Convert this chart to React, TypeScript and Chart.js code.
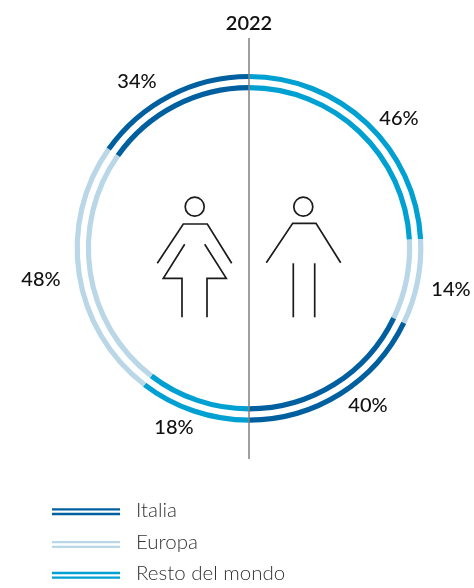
import React, { useEffect, useRef } from "react";
import { Chart, registerables } from "chart.js";

Chart.register(...registerables);

const year = "2022";
const categories = ["Resto del mondo", "Europa", "Italia", "Resto del mondo", "Europa", "Italia"];
// Printed percentages
const men = [46, 14, 40];
const women = [18, 48, 34];
// Arc shares as actually drawn in the picture (each half sums to 100)
const menArcs = [48.3, 16, 35.7];
const womenArcs = [20.8, 48.8, 30.4];
const legendLabels = ["Italia", "Europa", "Resto del mondo"];

const COLORS: Record<string, string> = {
  Italia: "#00609f",
  Europa: "#b9d7e7",
  "Resto del mondo": "#00a0d2",
};
const INK = "#111111";
const labelSpots = [
  [399, 119],
  [451, 290],
  [368, 406],
  [174, 428],
  [41, 280],
  [137, 82],
];

function polyline(ctx: CanvasRenderingContext2D, pts: number[][]) {
  ctx.beginPath();
  pts.forEach(([x, y], i) => (i ? ctx.lineTo(x, y) : ctx.moveTo(x, y)));
  ctx.stroke();
}

const overlay = {
  id: "overlay",
  afterDraw(chart: Chart) {
    const ctx = chart.ctx;
    ctx.save();
    // axis
    ctx.strokeStyle = "#808080";
    ctx.lineWidth = 1.5;
    polyline(ctx, [[249, 38], [249, 459]]);

    // figures
    ctx.strokeStyle = "#1c1c1c";
    ctx.lineWidth = 1.7;
    for (const cx of [194.7, 303.3]) {
      ctx.beginPath();
      ctx.arc(cx, 206.7, 9.5, 0, Math.PI * 2);
      ctx.stroke();
    }
    polyline(ctx, [[157.3, 263.3], [183.3, 224], [207.3, 224], [231.7, 263.3]]);
    polyline(ctx, [[184.7, 244.3], [163.3, 278.3], [182, 278.3], [182, 317.3]]);
    polyline(ctx, [[204.7, 244.3], [226.3, 278.3], [207, 278.3], [207, 317.3]]);
    polyline(ctx, [[266.3, 262.7], [292.7, 223.3], [316, 223.3], [340.7, 262.7]]);
    polyline(ctx, [[293.3, 263.3], [293.3, 317.3]]);
    polyline(ctx, [[314.7, 263.3], [314.7, 317.3]]);

    // percentage labels
    ctx.fillStyle = INK;
    ctx.textAlign = "center";
    ctx.textBaseline = "middle";
    ctx.font = "600 20px Lato";
    ctx.fillText(year, 249, 24);
    ctx.font = "500 20px Lato";
    const all = [...men, ...women];
    all.forEach((v, i) => ctx.fillText(`${v}%`, labelSpots[i][0], labelSpots[i][1]));

    // legend
    const legendY = [511.7, 544.5, 575.3];
    legendLabels.forEach((name, i) => {
      ctx.strokeStyle = COLORS[name];
      ctx.lineWidth = 2.3;
      polyline(ctx, [[52, legendY[i] - 2.3], [120, legendY[i] - 2.3]]);
      polyline(ctx, [[52, legendY[i] + 2.3], [120, legendY[i] + 2.3]]);
      ctx.fillStyle = "#333333";
      ctx.textAlign = "left";
      ctx.font = "300 20.5px Lato";
      ctx.fillText(name, 136, [510, 542, 573][i]);
    });
    ctx.restore();
  },
};

export default function App() {
  const ref = useRef<HTMLCanvasElement>(null);
  useEffect(() => {
    const values = [...menArcs, ...womenArcs];
    const bg = categories.map((c) => COLORS[c]);
    const chart = new Chart(ref.current!, {
      type: "doughnut",
      data: {
        labels: categories,
        datasets: [
          { label: "outer", data: values, backgroundColor: bg, borderWidth: 0, weight: 5.2 },
          { label: "gap", data: values, backgroundColor: "rgba(0,0,0,0)", borderWidth: 0, weight: 6 },
          { label: "inner", data: values, backgroundColor: bg, borderWidth: 0, weight: 5.2 },
        ],
      },
      options: {
        responsive: false,
        animation: false,
        cutout: "90.6%",
        radius: 174.4,
        layout: { padding: { left: 24, right: 0, top: 0, bottom: 91.4 } },
        plugins: { legend: { display: false }, tooltip: { enabled: false } },
      },
      plugins: [overlay],
    });
    return () => chart.destroy();
  }, []);
  return (
    <canvas
      ref={ref}
      width={474}
      height={588}
      style={{ position: "fixed", left: 0, top: 0, width: 474, height: 588, display: "block" }}
    />
  );
}
